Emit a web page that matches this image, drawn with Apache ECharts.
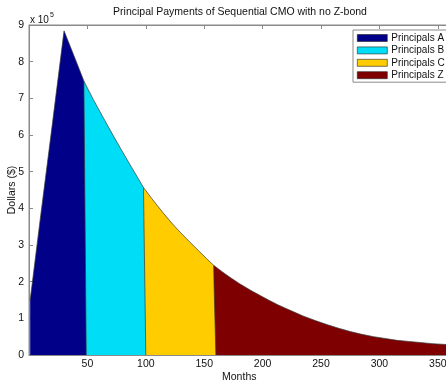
<!DOCTYPE html>
<html>
<head>
<meta charset="utf-8">
<script src="https://cdn.jsdelivr.net/npm/echarts@6/dist/echarts.min.js"></script>
<style>
html,body{margin:0;padding:0;background:#fff;}
#chart{width:446px;height:381px;}
</style>
</head>
<body>
<div id="chart"></div>
<script>
// Total principal payment (dollars), by month
const months = [1, 10, 20, 30, 40, 47, 55, 65, 72, 79, 88, 98, 105, 110, 115, 120, 125, 130, 138, 145, 152, 158, 165, 172, 180, 190, 198, 205, 213, 220, 227, 235, 245, 255, 265, 275, 284, 295, 305, 315, 325, 335, 345, 360];
const totals = [150000, 380000, 630000, 884000, 804000, 747000, 697000, 639000, 599000, 560000, 511000, 457000, 427000, 407000, 387000, 368000, 350000, 333000, 307000, 285000, 263000, 245000, 228000, 212000, 195000, 176000, 162000, 150000, 137000, 127000, 117000, 106000, 94000, 83000, 73000, 64000, 57000, 50000, 45000, 40000, 37000, 34000, 31000, 28000];
const trancheNames = ['Principals A', 'Principals B', 'Principals C', 'Principals Z'];
const trancheColors = ['#000088', '#00DDF6', '#FFCC00', '#7F0000'];
const trancheStart = [1, 47, 98, 158];   // first month of each tranche
const trancheLast = [47, 98, 158, 360];  // last full month of each tranche
const payoffMonth = [49, 100, 160, null]; // month where the tranche payment reaches zero
const xTicks = [0, 50, 100, 150, 200, 250, 300, 350];
const yTickLabels = ['0', '1', '2', '3', '4', '5', '6', '7', '8', '9'];

const chart = echarts.init(document.getElementById('chart'), null, {renderer: 'canvas'});
const font = 'Liberation Sans, Arial, Helvetica, sans-serif';

const series = trancheNames.map((name, i) => {
  const data = [];
  months.forEach((m, k) => {
    if (m >= trancheStart[i] && m <= trancheLast[i]) data.push([m, totals[k]]);
  });
  if (payoffMonth[i] !== null) data.push([payoffMonth[i], 0]);
  return {
    name: name,
    type: 'line',
    data: data,
    showSymbol: false,
    symbol: 'none',
    smooth: false,
    z: 6 - i,
    itemStyle: {color: trancheColors[i]},
    lineStyle: {color: '#3a3a3a', width: 0.7},
    areaStyle: {color: trancheColors[i], opacity: 1},
    emphasis: {disabled: true},
    animation: false
  };
});

const axisCommon = {
  type: 'value',
  min: 0,
  max: 360,
  interval: 50,
  axisLine: {show: true, lineStyle: {color: '#8a8a8a', width: 1}},
  axisTick: {show: true, inside: true, length: 4, lineStyle: {color: '#8a8a8a'}},
  splitLine: {show: false}
};

chart.setOption({
  animation: false,
  backgroundColor: '#fff',
  grid: {left: 29, right: -3.5, top: 25, bottom: 26, containLabel: false, outerBoundsMode: 'none', show: true, borderColor: '#8a8a8a', borderWidth: 1, backgroundColor: 'transparent'},
  legend: {
    orient: 'vertical',
    left: 353,
    top: 30,
    data: trancheNames,
    icon: 'rect',
    itemWidth: 30,
    itemHeight: 7,
    itemGap: 0.4,
    padding: [2, 20, 1, 4],
    borderColor: '#8a8a8a',
    borderWidth: 1,
    backgroundColor: '#fff',
    itemStyle: {borderColor: '#222', borderWidth: 0.6},
    textStyle: {fontFamily: font, fontSize: 10, lineHeight: 12, color: '#111', padding: [0, 0, 0, -1]},
    selectedMode: false
  },
  xAxis: [
    Object.assign({}, axisCommon, {
      position: 'bottom',
      name: 'Months',
      nameLocation: 'middle',
      nameGap: 17,
      nameMoveOverlap: false,
      nameTextStyle: {fontFamily: font, fontSize: 10.5, color: '#111'},
      axisLabel: {
        fontFamily: font, fontSize: 10.5, color: '#111', margin: 4,
        showMaxLabel: false,
        formatter: v => (v === 0 || xTicks.indexOf(v) < 0) ? '' : String(v)
      }
    }),
    Object.assign({}, axisCommon, {
      position: 'top',
      axisLabel: {show: false}
    })
  ],
  yAxis: [{
    type: 'value',
    min: 0,
    max: 900000,
    interval: 100000,
    name: 'Dollars ($)',
    nameLocation: 'middle',
    nameGap: 11,
    nameMoveOverlap: false,
    nameTextStyle: {fontFamily: font, fontSize: 10.5, color: '#111'},
    axisLine: {show: true, lineStyle: {color: '#8a8a8a', width: 1}},
    axisTick: {show: true, inside: true, length: 4, lineStyle: {color: '#8a8a8a'}},
    splitLine: {show: false},
    axisLabel: {
      fontFamily: font, fontSize: 10.5, color: '#111', margin: 5,
      formatter: v => yTickLabels[Math.round(v / 100000)]
    }
  }],
  graphic: [
    {
      type: 'text',
      x: 240,
      y: 7,
      style: {
        text: 'Principal Payments of Sequential CMO with no Z-bond',
        fontFamily: font, fontSize: 10.5, fill: '#111',
        textAlign: 'center'
      }
    },
    {
      type: 'text',
      x: 30,
      y: 12,
      style: {
        text: '{a|x 10}{b|5}',
        rich: {
          a: {fontFamily: font, fontSize: 10, fill: '#111', verticalAlign: 'bottom'},
          b: {fontFamily: font, fontSize: 7, fill: '#111', verticalAlign: 'top', padding: [0, 0, 6, 1]}
        }
      }
    }
  ],
  series: series
});
</script>
</body>
</html>
